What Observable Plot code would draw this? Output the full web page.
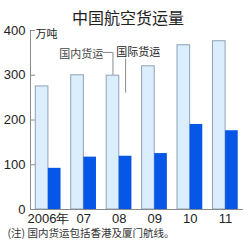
<!DOCTYPE html>
<html><head><meta charset="utf-8">
<script src="https://cdn.jsdelivr.net/npm/d3@7"></script>
<script src="https://cdn.jsdelivr.net/npm/@observablehq/plot@0.6"></script>
<style>html,body{margin:0;padding:0;background:#fff;}</style>
</head><body><div id="chart"></div>
<script>
const years = ["2006","2007","2008","2009","2010","2011"];
const yearLabels = ["2006年","07","08","09","10","11"];
const domestic = [275, 300, 299, 320, 367, 376];
const international = [92, 117, 119, 125, 190, 176];
const yTicks = [0, 100, 200, 300, 400];
const title = "中国航空货运量";
const unit = "万吨";
const note = "(注) 国内货运包括香港及厦门航线。";
const labelDomestic = "国内货运";
const labelIntl = "国际货运";

const rows = years.map((y, i) => ({year: y, domestic: domestic[i], international: international[i]}));
const NUM = "'Liberation Sans Narrow','Arial Narrow','Liberation Sans',Arial,sans-serif";
const CJK = "'Noto Sans CJK SC','Noto Sans',sans-serif";
const half = 12.63;

const chart = Plot.plot({
  width: 250, height: 245,
  marginTop: 30, marginBottom: 36, marginLeft: 30, marginRight: 7,
  style: {background: "#fff", color: "#222"},
  x: {domain: years, paddingInner: 0.287, paddingOuter: 0.149, round: false, axis: null},
  y: {domain: [0, 400], axis: null},
  marks: [
    Plot.barY(rows, {x: "year", y: "domestic", insetRight: half, fill: "#dbeefd", stroke: "#8fa2b6", strokeWidth: 1}),
    Plot.barY(rows, {x: "year", y: "international", insetLeft: half, fill: "#0656e8"}),
    Plot.frame({anchor: "left", stroke: "#8a8a8a"}),
    Plot.ruleY([0], {stroke: "#8a8a8a"}),
    Plot.axisY({ticks: yTicks, tickSize: 5, dx: 5, tickPadding: 5, stroke: "#8a8a8a", fill: "#222", fontSize: 13, fontFamily: NUM}),
    Plot.axisX({tickSize: 0, tickPadding: 4, tickFormat: d => yearLabels[years.indexOf(d)], fontSize: 13, fontFamily: NUM, fill: "#222"}),
    // annotations
    Plot.ruleX([{x: "2008", y1: 300, y2: 351}], {x: "x", y1: "y1", y2: "y2", dx: -half / 2, stroke: "#8a8a8a"}),
    Plot.tickY([{x: "2008", y: 351}], {x: "x", y: "y", dx: -3.5, insetRight: 15.5, stroke: "#8a8a8a"}),
    Plot.text([{x: "2008", y: 347, t: labelDomestic}], {x: "x", y: "y", text: "t", dx: -16, textAnchor: "end", fontSize: 11, fontFamily: CJK, fill: "#444"}),
    Plot.ruleX([{x: "2008", y1: 260, y2: 336}], {x: "x", y1: "y1", y2: "y2", dx: half / 2, stroke: "#8a8a8a"}),
    Plot.text([{x: "2008", y: 352, t: labelIntl}], {x: "x", y: "y", text: "t", dx: -3, textAnchor: "start", fontSize: 11, fontFamily: CJK, fill: "#222"}),
    Plot.text([unit], {frameAnchor: "top-left", dx: 5, textAnchor: "start", fontSize: 11, fontFamily: CJK, fill: "#222"}),
    Plot.text([title], {frameAnchor: "top", dy: -18, dx: -9, fontSize: 16, fontFamily: CJK, fill: "#222"}),
    Plot.text([note], {frameAnchor: "bottom-left", dx: -23, dy: 27, textAnchor: "start", fontSize: 10.5, fontFamily: CJK, fill: "#333"})
  ]
});
document.getElementById("chart").appendChild(chart);
</script>
</body></html>
